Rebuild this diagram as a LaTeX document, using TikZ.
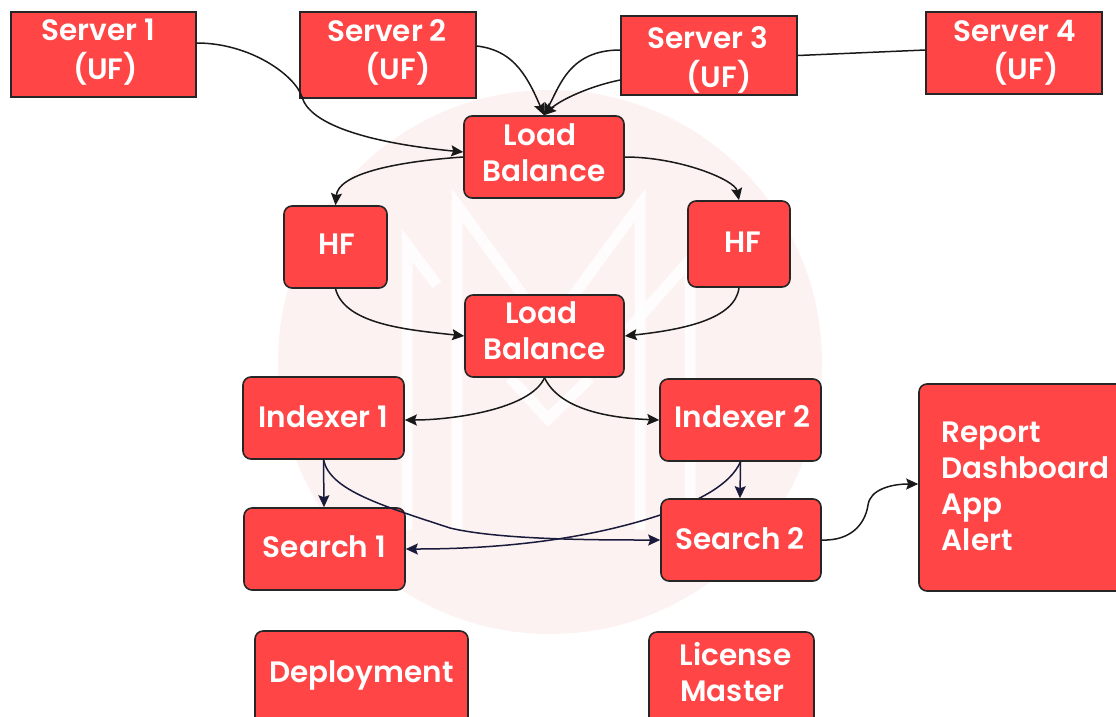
\documentclass[tikz,border=0pt]{standalone}
\usepackage{fontspec}
\setmainfont{Poppins SemiBold}
\usetikzlibrary{arrows.meta,backgrounds}
\definecolor{boxred}{HTML}{FF4545}
\definecolor{wm}{HTML}{FCF2F1}
\definecolor{navy}{HTML}{1A1A3C}
\newcommand\lines[4]{\raisebox{#2}[0pt][0pt]{\makebox[0pt]{\hspace*{#1}\hspace*{#1}\begin{tabular}{@{}#3@{}}#4\end{tabular}}}}
\tikzset{
  box/.style={draw=black!85,line width=1.6pt,fill=boxred,text=white,inner sep=0pt,rounded corners=8pt,
     font=\fontsize{29.5}{36}\selectfont},
  sq/.style={box,rounded corners=0pt},
  plain/.style={draw=black!90,line width=1.5pt},
  link/.style={plain,-{Stealth[length=12pt,width=11pt,inset=2pt]}},
  nlink/.style={link,draw=navy},
  wmbar/.style={white,line width=11pt,opacity=.8,line join=miter},
}
\begin{document}
\begin{tikzpicture}[x=1pt,y=-1pt]
\useasboundingbox (0,0) rectangle (1116,716);
\node[sq,minimum width=185pt,minimum height=85pt] (s1) at (103.5,54.5) {\lines{-5pt}{-4.5pt}{c}{Server 1\\\hspace*{14pt}(UF)}};
\node[sq,minimum width=176pt,minimum height=86pt] (s2) at (388,55) {\lines{-1pt}{-4.5pt}{c}{Server 2\\\hspace*{22pt}(UF)}};
\node[sq,minimum width=176pt,minimum height=79pt] (s3) at (709,55.5) {\lines{-1pt}{-11.5pt}{c}{Server 3\\\hspace*{22pt}(UF)}};
\node[sq,minimum width=176pt,minimum height=82pt] (s4) at (1014,53) {\lines{1pt}{-6.5pt}{c}{Server 4\\\hspace*{22pt}(UF)}};
\node[box,minimum width=160pt,minimum height=82pt] (lb1) at (544,157) {\lines{0pt}{-5.5pt}{c}{\hspace*{-8pt}Load\\Balance}};
\node[box,minimum width=103pt,minimum height=82pt] (hf1) at (335.5,247) {\lines{1.5pt}{-6.5pt}{c}{HF}};
\node[box,minimum width=102pt,minimum height=86pt] (hf2) at (739,244) {\lines{4pt}{-7.5pt}{c}{HF}};
\node[box,minimum width=159pt,minimum height=82pt] (lb2) at (544.5,336) {\lines{0pt}{-4.5pt}{c}{\hspace*{-6pt}Load\\Balance}};
\node[box,minimum width=161pt,minimum height=82pt] (i1) at (323.5,418) {\lines{0pt}{-8.5pt}{c}{Indexer 1}};
\node[box,minimum width=161pt,minimum height=82pt] (i2) at (740.5,420) {\lines{2pt}{-6.5pt}{c}{Indexer 2}};
\node[box,minimum width=161pt,minimum height=82pt] (se1) at (324.5,549) {\lines{0pt}{-7.5pt}{c}{Search 1}};
\node[box,minimum width=160pt,minimum height=82pt] (se2) at (741,540) {\lines{-1pt}{-8.5pt}{c}{Search 2}};
\node[box,minimum width=210pt,minimum height=207pt] (rep) at (1024,487.5) {\lines{1.5pt}{-8.5pt}{l}{Report\\Dashboard\\App\\Alert}};
\node[box,minimum width=213pt,minimum height=100pt] (dep) at (361.5,681) {\lines{0pt}{-0.5pt}{c}{Deployment}};
\node[box,minimum width=165pt,minimum height=100pt] (lic) at (731.5,682) {\lines{1pt}{-0.5pt}{c}{\hspace*{6pt}License\\Master}};
\coordinate (xa) at ([yshift=25pt]se2.west);
\begin{scope}[on background layer]
  \fill[wm] (550,362) circle (272);
  \draw[wmbar] (457,530) -- (457,205) -- (548,330) -- (640,205) -- (640,530);
  \draw[wmbar] (407,530) -- (407,245) -- (437,285);
  \draw[wmbar] (690,530) -- (690,260) -- (628,330);
  \draw[wmbar] (510,378) -- (548,419) -- (590,378);
  \draw[navy,line width=1.5pt] (i2.south) .. controls (730,485) and (700,500) .. (xa);
\end{scope}
\draw[link] ([yshift=11.5pt]s1.east) .. controls (250,43) and (295,75) .. (302,97)
   .. controls (310,125) and (370,143) .. ([yshift=5pt]lb1.west);
\draw[link] ([yshift=9pt]s2.east) .. controls (510,50) and (525,70) .. (lb1.north);
\draw[link] ([yshift=5.5pt]s3.west) .. controls (570,50) and (560,85) .. (lb1.north);
\draw[link] ([yshift=-24.5pt]s3.west) .. controls (590,86) and (560,100) .. (lb1.north);
\draw[plain] (s3.east) -- ([yshift=3pt]s4.west);
\draw[link] (lb1.west) .. controls (390,162) and (338,175) .. (hf1.north);
\draw[link] (lb1.east) .. controls (680,157) and (735,180) .. (hf2.north);
\draw[link] (hf1.south) .. controls (345,325) and (410,330) .. (lb2.west);
\draw[link] (hf2.south) .. controls (735,320) and (680,330) .. (lb2.east);
\draw[link] (lb2.south) .. controls (530,410) and (450,420) .. ([yshift=-2pt]i1.east);
\draw[link] (lb2.south) .. controls (560,410) and (610,418) .. (i2.west);
\draw[nlink] (i1.south) -- ([xshift=-0.5pt]se1.north);
\draw[nlink] (i1.south) .. controls (330,490) and (380,505) .. (450,528) .. controls (500,540) and (600,540) .. (se2.west);
\draw[nlink] (i2.south) -- ([xshift=-1pt]se2.north);
\draw[nlink] (xa) .. controls (600,535) and (520,549) .. (se1.east);
\draw[link] (se2.east) .. controls (850,541) and (865,525) .. (868,505) .. controls (870,490) and (890,484) .. ([yshift=3.5pt]rep.west);
\end{tikzpicture}
\end{document}
